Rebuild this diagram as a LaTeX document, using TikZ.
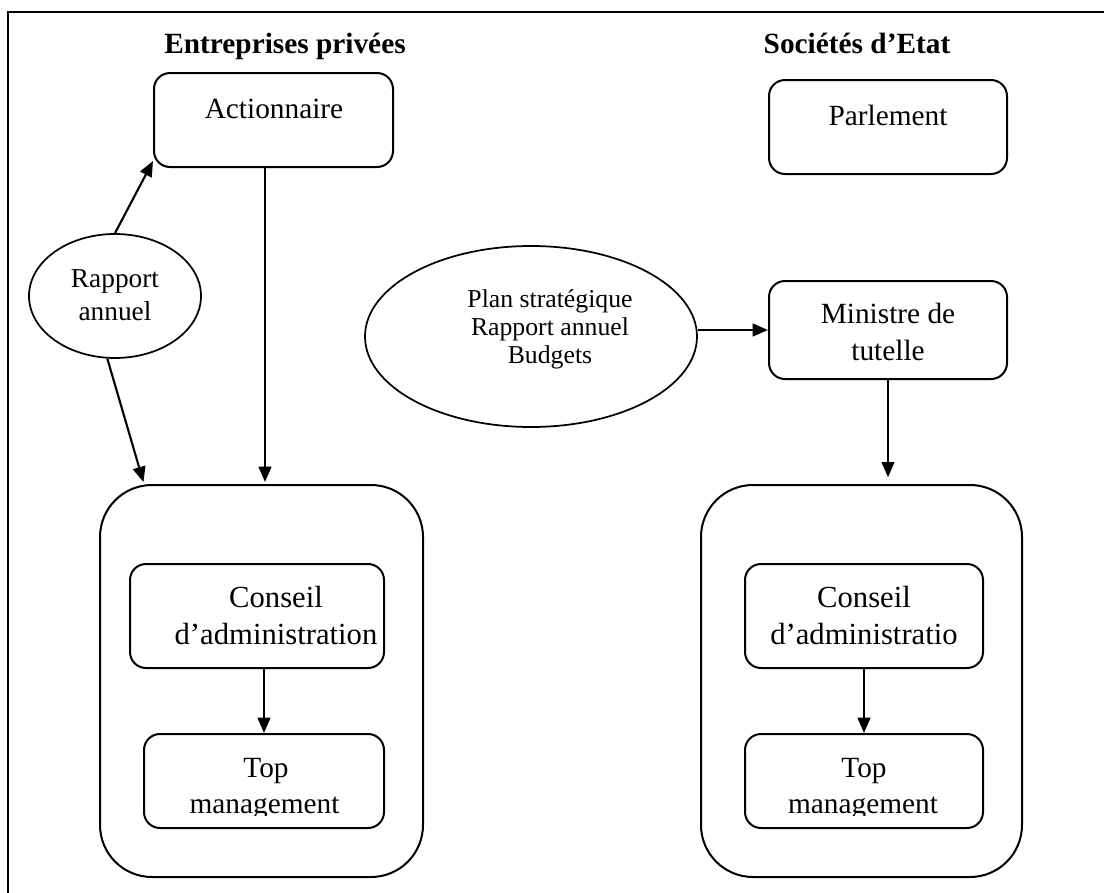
\documentclass[tikz,border=0pt]{standalone}
\usepackage{fontspec}
\setmainfont{Liberation Serif}
\usetikzlibrary{arrows.meta,fit,shapes.geometric}

\begin{document}
\begin{tikzpicture}[x=0.75pt,y=-0.75pt,
  box/.style={draw,rounded corners=12pt,line width=1.5pt,inner sep=0pt},
  outer/.style={draw,rounded corners=39pt,line width=1.5pt,inner sep=0pt},
  bubble/.style={draw,ellipse,line width=1.3pt,inner sep=0pt},
  head/.style={font=\fontsize{22}{26}\selectfont\bfseries,anchor=base,inner sep=0pt},
  lbl/.style={font=\fontsize{22}{26}\selectfont,anchor=base,inner sep=0pt},
  lblbig/.style={lbl,font=\fontsize{23}{27}\selectfont},
  lblrap/.style={lbl,font=\fontsize{20.5}{24}\selectfont},
  lblplan/.style={lbl,font=\fontsize{19.3}{23}\selectfont},
  arr/.style={-{Triangle[length=11.5pt,width=9.5pt]},line width=1.6pt},
]
\useasboundingbox (0,0) rectangle (1104,893);

% outer frame (top and left sides)
\draw[line width=2pt] (8,893) -- (8,12) -- (1104,12);

% headings
\node[head] (t1) at (285,53) {Entreprises privées};
\node[head] (t2) at (857,53) {Sociétés d’Etat};

% boxes
\node[box,fit={(154,73)(393,167)}] (act) {};
\node[box,fit={(769,80)(1007,174)}] (parl) {};
\node[box,fit={(769,281)(1007,379)}] (min) {};
\node[outer,fit={(100,485)(423,877)}] (lbig) {};
\node[outer,fit={(701,485)(1022,877)}] (rbig) {};
\node[box,fit={(130,564)(384,668)}] (lcon) {};
\node[box,fit={(144,734)(384,828)}] (ltop) {};
\node[box,fit={(745,564)(983,668)}] (rcon) {};
\node[box,fit={(745,734)(983,828)}] (rtop) {};

% ellipses
\node[bubble,minimum width=129pt,minimum height=93pt] (rap) at (115,296) {};
\node[bubble,minimum width=249pt,minimum height=135.75pt] (plan) at (531,336.5) {};

% labels
\node[lbl] (actl) at (274,118) {Actionnaire};
\node[lbl] (parll) at (888,125) {Parlement};
\node[lbl] (minl1) at (888,323) {Ministre de};
\node[lbl] (minl2) at (888,360) {tutelle};
\node[lblrap] (rapl1) at (115,287) {Rapport};
\node[lblrap] (rapl2) at (115,320) {annuel};
\node[lblplan] (planl1) at (550,307) {Plan stratégique};
\node[lblplan] (planl2) at (550,335) {Rapport annuel};
\node[lblplan] (planl3) at (550,363) {Budgets};
\node[lblbig] (lconl1) at (276,607) {Conseil};
\node[lblbig] (lconl2) at (276,644) {d’administration};
\node[lblbig] (rconl1) at (864,607) {Conseil};
\node[lblbig] (rconl2) at (864,644) {d’administratio};
\node[lbl] (ltopl1) at (266,777) {Top};
\node[lbl] (rtopl1) at (864,777) {Top};
\begin{scope}
  \clip (0,0) rectangle (1104,815.5);
  \node[lbl] (ltopl2) at (264.5,813) {management};
  \node[lbl] (rtopl2) at (863,813) {management};
\end{scope}

% connectors
\draw[arr] (rap.north) -- ([yshift=5.25pt]act.south west);
\draw[arr,shorten >=1.5pt] (rap.-97) -- (lbig.north -| 144,0);
\draw[arr,shorten >=1.5pt] (act.south -| 265,0) -- (lbig.north -| 265,0);
\draw[arr] (plan.east |- min.west) -- (min.west);
\draw[arr,shorten >=5pt] (min.south) -- (rbig.north -| min.south);
\draw[arr] (ltop.north |- lcon.south) -- (ltop.north);
\draw[arr] (rcon.south) -- (rtop.north);
\end{tikzpicture}
\end{document}
